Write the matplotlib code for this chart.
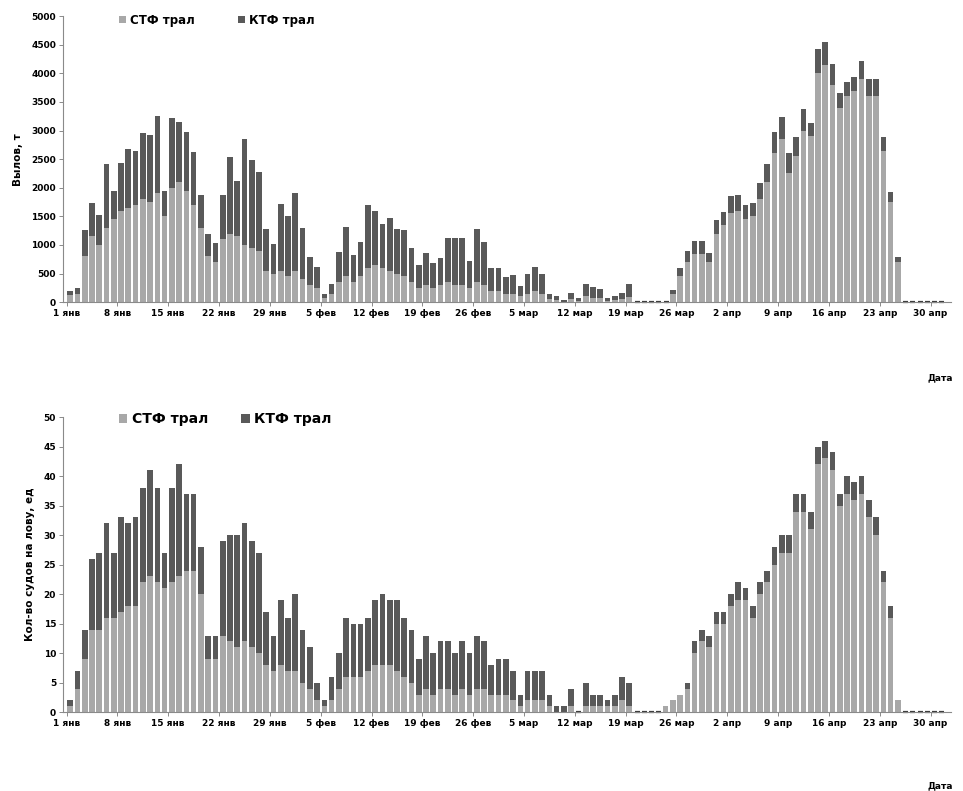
import matplotlib
matplotlib.use("Agg")
import matplotlib.pyplot as plt
import numpy as np

plt.rcParams["font.family"] = ["DejaVu Sans"]

# Days from 1 January (index 0) to 1 May (index 120)
days = np.arange(121)
tick_days = list(range(0, 120, 7))
tick_labels = ["1 янв", "8 янв", "15 янв", "22 янв", "29 янв", "5 фев", "12 фев",
               "19 фев", "26 фев", "5 мар", "12 мар", "19 мар", "26 мар", "2 апр",
               "9 апр", "16 апр", "23 апр", "30 апр"]

# Daily catch, t
catch_stf = [120, 150, 800, 1150, 1000, 1300, 1450, 1600, 1650, 1700,
             1800, 1750, 1900, 1500, 2000, 2100, 1950, 1700, 1300, 800,
             700, 1100, 1200, 1150, 1000, 950, 900, 550, 500, 550,
             450, 550, 400, 300, 250, 80, 150, 350, 450, 350,
             450, 600, 650, 600, 550, 500, 450, 350, 250, 300,
             250, 300, 350, 300, 300, 250, 350, 300, 200, 200,
             150, 150, 100, 150, 200, 150, 50, 40, 10, 50,
             25, 100, 80, 70, 20, 30, 50, 90, 0, 0,
             0, 0, 0, 150, 450, 700, 850, 850, 700, 1200,
             1350, 1550, 1600, 1450, 1500, 1800, 2100, 2600, 2850, 2250,
             2550, 3000, 2900, 4000, 4150, 3800, 3400, 3600, 3700, 3900,
             3600, 3600, 2650, 1750, 700, 0, 0, 0, 0, 0,
             0]
catch_ktf = [70, 95, 470, 590, 530, 1110, 490, 830, 1020, 940,
             1160, 1180, 1350, 450, 1220, 1050, 1020, 920, 580, 400,
             330, 770, 1340, 970, 1850, 1540, 1370, 730, 520, 1160,
             1060, 1360, 900, 490, 370, 70, 160, 520, 870, 470,
             600, 1100, 940, 760, 920, 780, 810, 605, 400, 560,
             440, 480, 775, 825, 825, 465, 930, 760, 395, 395,
             290, 320, 190, 350, 420, 345, 100, 65, 30, 115,
             50, 215, 190, 165, 55, 75, 115, 225, 0, 0,
             0, 0, 0, 70, 155, 200, 220, 220, 160, 230,
             220, 300, 280, 250, 225, 290, 320, 380, 380, 350,
             340, 370, 235, 420, 400, 370, 250, 250, 240, 310,
             300, 300, 240, 180, 90, 0, 0, 0, 0, 0,
             0]

# Vessels fishing per day
vessels_stf = [1, 4, 9, 14, 14, 16, 16, 17, 18, 18,
               22, 23, 22, 21, 22, 23, 24, 24, 20, 9,
               9, 13, 12, 11, 12, 11, 10, 8, 7, 8,
               7, 7, 5, 4, 2, 1, 2, 4, 6, 6,
               6, 7, 8, 8, 8, 7, 6, 5, 3, 4,
               3, 4, 4, 3, 4, 3, 4, 4, 3, 3,
               3, 2, 1, 2, 2, 2, 1, 0, 0, 1,
               0, 1, 1, 1, 1, 1, 2, 1, 0, 0,
               0, 0, 1, 2, 3, 4, 10, 12, 11, 15,
               15, 18, 19, 19, 16, 20, 22, 25, 27, 27,
               34, 34, 31, 42, 43, 41, 35, 37, 36, 37,
               33, 30, 22, 16, 2, 0, 0, 0, 0, 0,
               0]
vessels_ktf = [1, 3, 5, 12, 13, 16, 11, 16, 14, 15,
               16, 18, 16, 6, 16, 19, 13, 13, 8, 4,
               4, 16, 18, 19, 20, 18, 17, 9, 6, 11,
               9, 13, 9, 7, 3, 1, 4, 6, 10, 9,
               9, 9, 11, 12, 11, 12, 10, 9, 6, 9,
               7, 8, 8, 7, 8, 7, 9, 8, 5, 6,
               6, 5, 2, 5, 5, 5, 2, 1, 1, 3,
               0, 4, 2, 2, 1, 2, 4, 4, 0, 0,
               0, 0, 0, 0, 0, 1, 2, 2, 2, 2,
               2, 2, 3, 2, 2, 2, 2, 3, 3, 3,
               3, 3, 3, 3, 3, 3, 2, 3, 3, 3,
               3, 3, 2, 2, 0, 0, 0, 0, 0, 0,
               0]

series_names = ["СТФ трал", "КТФ трал"]
color_stf = "#a8a8a8"
color_ktf = "#595959"
bar_w = 0.78

fig = plt.figure(figsize=(9.63, 7.91), dpi=100)
ax1 = fig.add_axes([0.0654, 0.618, 0.922, 0.3616])
ax2 = fig.add_axes([0.0654, 0.0995, 0.922, 0.3733])


def draw_panel(ax, stf, ktf, ymax, ystep, ylabel, legend_size, legend_x, legend_y, colspace):
    stf = np.asarray(stf)
    ktf = np.asarray(ktf)
    ax.bar(days, stf, width=bar_w, color=color_stf, linewidth=0, label=series_names[0])
    ax.bar(days, ktf, width=bar_w, bottom=stf, color=color_ktf,
           linewidth=0, label=series_names[1])
    # days without any fishing show as short dashes on the baseline
    empty = days[(stf + ktf) == 0]
    ax.plot(empty, np.zeros(len(empty)), ls="none", marker="_", ms=3.6, mew=1.6,
            color="#3a3a3a", clip_on=False)
    ax.set_xlim(-1.0, 121.3)
    ax.set_ylim(0, ymax)
    ax.set_yticks(np.arange(0, ymax + 1, ystep))
    ax.set_xticks([d - 0.5 for d in tick_days])
    ax.set_xticklabels(tick_labels, fontsize=6.5, fontweight="bold")
    for lab in ax.get_yticklabels():
        lab.set_fontsize(6.5)
        lab.set_fontweight("bold")
    for s in ("top", "right"):
        ax.spines[s].set_visible(False)
    for s in ("left", "bottom"):
        ax.spines[s].set_color("#8a8a8a")
        ax.spines[s].set_linewidth(0.8)
    ax.tick_params(axis="both", length=3, width=0.7, color="#8a8a8a", pad=2)
    ax.set_ylabel(ylabel, fontsize=7.5, fontweight="bold", labelpad=6)
    ax.legend(loc="upper left", bbox_to_anchor=(legend_x, legend_y), ncol=2,
              frameon=False, prop={"size": legend_size, "weight": "bold"},
              handlelength=0.6, handleheight=0.6, handletextpad=0.3,
              columnspacing=colspace, borderaxespad=0)


draw_panel(ax1, catch_stf, catch_ktf, 5000, 500, "Вылов, т", 8.5, 0.058, 1.025, 3.7)
draw_panel(ax2, vessels_stf, vessels_ktf, 50, 5, "Кол-во судов на лову, ед",
           10, 0.057, 1.035, 2.4)

fig.text(0.99, 0.523, "Дата", ha="right", va="center", fontsize=6.5, fontweight="bold")
fig.text(0.99, 0.006, "Дата", ha="right", va="center", fontsize=6.5, fontweight="bold")

fig.savefig("out.png", dpi=100, facecolor="white")
